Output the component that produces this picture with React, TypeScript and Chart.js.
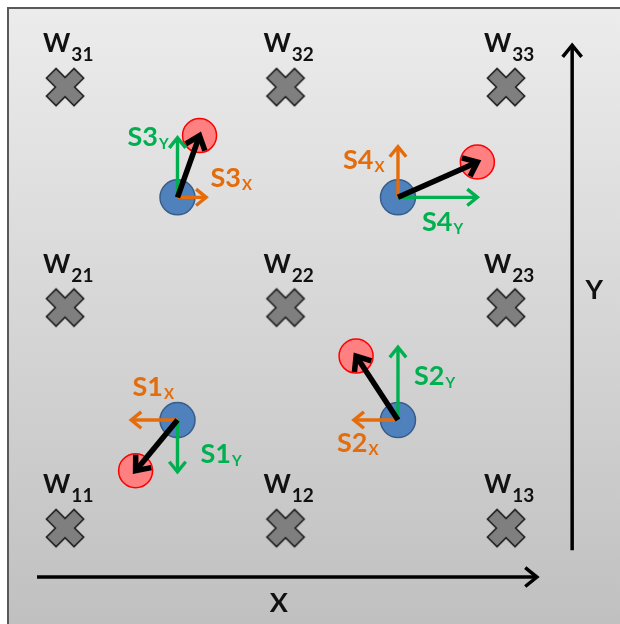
import React, { useEffect, useRef } from "react";
import { Chart, registerables } from "chart.js";

Chart.register(...registerables);

// ---- data (diagram units: weight grid spacing = 1) ----
const weightIds = ["11", "12", "13", "21", "22", "23", "31", "32", "33"];
const weightX = [1, 2, 3, 1, 2, 3, 1, 2, 3];
const weightY = [1, 1, 1, 2, 2, 2, 3, 3, 3];

const sampleIds = ["1", "2", "3", "4"];
const sampleX = [1.51, 2.51, 1.51, 2.51];
const sampleY = [1.49, 1.49, 2.5, 2.5];
const targetX = [1.32, 2.32, 1.61, 2.87];
const targetY = [1.26, 1.78, 2.78, 2.66];

// component arrows as drawn (the "X" component of S4 is drawn vertical)
const compXdx = [-0.21, -0.2, 0.13, 0];
const compXdy = [0, 0, 0, 0.23];
const compYdx = [0, 0, 0, 0.36];
const compYdy = [-0.235, 0.33, 0.27, 0];

const axisXFrom = [0.873, 0.778];
const axisXTo = [3.14, 0.778];
const axisYFrom = [3.3, 0.9];
const axisYTo = [3.3, 3.19];
const axisXLabelPos = [1.97, 0.66];
const axisYLabelPos = [3.4, 2.08];

// ---- styles ----
const FONT = "Lato, 'Open Sans', sans-serif";
const GREEN = "#00b050";
const ORANGE = "#e46c0a";
// label offsets in px relative to the blue circle centre [dx, dy]
const labelXOffset = [[-45, -24], [-61, 32], [33, -10], [-55, -28]];
const labelYOffset = [[23, 43], [16, -35], [-50, -51], [24, 34]];

function makeCross(): HTMLCanvasElement {
  const c = document.createElement("canvas");
  c.width = 46;
  c.height = 46;
  const g = c.getContext("2d")!;
  g.translate(23, 23);
  g.rotate(Math.PI / 4);
  const w = 6.8;
  const L = 19.5;
  g.beginPath();
  g.moveTo(-w, -L);
  g.lineTo(w, -L);
  g.lineTo(w, -w);
  g.lineTo(L, -w);
  g.lineTo(L, w);
  g.lineTo(w, w);
  g.lineTo(w, L);
  g.lineTo(-w, L);
  g.lineTo(-w, w);
  g.lineTo(-L, w);
  g.lineTo(-L, -w);
  g.lineTo(-w, -w);
  g.closePath();
  g.fillStyle = "#7f7f7f";
  g.fill();
  g.lineWidth = 1.6;
  g.lineJoin = "miter";
  g.strokeStyle = "#1e1e1e";
  g.stroke();
  return c;
}

function drawArrow(
  ctx: CanvasRenderingContext2D,
  x1: number,
  y1: number,
  x2: number,
  y2: number,
  color: string,
  width: number,
  head: number
) {
  const ang = Math.atan2(y2 - y1, x2 - x1);
  ctx.save();
  ctx.strokeStyle = color;
  ctx.lineWidth = width;
  ctx.lineCap = "butt";
  ctx.lineJoin = "miter";
  ctx.beginPath();
  ctx.moveTo(x1, y1);
  ctx.lineTo(x2 - Math.cos(ang) * width * 0.6, y2 - Math.sin(ang) * width * 0.6);
  ctx.stroke();
  const a = Math.PI / 4.6;
  ctx.beginPath();
  ctx.moveTo(x2 - head * Math.cos(ang - a), y2 - head * Math.sin(ang - a));
  ctx.lineTo(x2, y2);
  ctx.lineTo(x2 - head * Math.cos(ang + a), y2 - head * Math.sin(ang + a));
  ctx.stroke();
  ctx.restore();
}

function drawSub(
  ctx: CanvasRenderingContext2D,
  x: number,
  y: number,
  main: string,
  sub: string,
  color: string,
  mainSize: number,
  subSize: number,
  subDy: number
) {
  ctx.save();
  ctx.fillStyle = color;
  ctx.textAlign = "left";
  ctx.textBaseline = "alphabetic";
  ctx.font = `bold ${mainSize}px ${FONT}`;
  ctx.fillText(main, x, y);
  const w = ctx.measureText(main).width;
  ctx.font = `bold ${subSize}px ${FONT}`;
  ctx.fillText(sub, x + w + 1, y + subDy);
  ctx.restore();
}

const diagramPlugin = {
  id: "diagram",
  beforeDraw(chart: any) {
    const ctx: CanvasRenderingContext2D = chart.ctx;
    const W = chart.width;
    const H = chart.height;
    ctx.save();
    ctx.fillStyle = "#ffffff";
    ctx.fillRect(0, 0, W, H);
    const grad = ctx.createLinearGradient(0, 8, 0, H);
    grad.addColorStop(0, "#ececec");
    grad.addColorStop(1, "#c0c0c0");
    ctx.fillStyle = grad;
    ctx.fillRect(8, 8, W - 8, H - 8);
    ctx.strokeStyle = "#595959";
    ctx.lineWidth = 2;
    ctx.beginPath();
    ctx.moveTo(8, H + 2);
    ctx.lineTo(8, 8);
    ctx.lineTo(W + 2, 8);
    ctx.stroke();
    ctx.restore();
  },
  afterDatasetsDraw(chart: any) {
    const ctx: CanvasRenderingContext2D = chart.ctx;
    const xs = chart.scales.x;
    const ys = chart.scales.y;
    const px = (v: number) => xs.getPixelForValue(v);
    const py = (v: number) => ys.getPixelForValue(v);

    // weight labels
    for (let i = 0; i < weightIds.length; i++) {
      const cx = px(weightX[i]);
      const cy = py(weightY[i]);
      drawSub(ctx, cx - 22, cy - 35, "W", weightIds[i], "#111111", 26, 19, 9);
    }

    // component arrows
    for (let i = 0; i < sampleIds.length; i++) {
      const bx = px(sampleX[i]);
      const by = py(sampleY[i]);
      drawArrow(ctx, bx, by, px(sampleX[i] + compXdx[i]), py(sampleY[i] + compXdy[i]), ORANGE, 3.4, 13);
      drawArrow(ctx, bx, by, px(sampleX[i] + compYdx[i]), py(sampleY[i] + compYdy[i]), GREEN, 3.4, 13);
    }
    // resultant arrows
    for (let i = 0; i < sampleIds.length; i++) {
      const bx = px(sampleX[i]);
      const by = py(sampleY[i]);
      const tx = px(targetX[i]);
      const ty = py(targetY[i]);
      drawArrow(ctx, bx, by, tx, ty, "#000000", 5.5, 16);
    }
    // component labels
    for (let i = 0; i < sampleIds.length; i++) {
      const bx = px(sampleX[i]);
      const by = py(sampleY[i]);
      const ox = labelXOffset[i];
      const oy = labelYOffset[i];
      drawSub(ctx, bx + ox[0], by + ox[1], "S" + sampleIds[i], "X", ORANGE, 27, 15, 3);
      drawSub(ctx, bx + oy[0], by + oy[1], "S" + sampleIds[i], "Y", GREEN, 27, 15, 3);
    }

    // axes arrows
    drawArrow(ctx, px(axisXFrom[0]), py(axisXFrom[1]), px(axisXTo[0]), py(axisXTo[1]), "#000000", 3.5, 15);
    drawArrow(ctx, px(axisYFrom[0]), py(axisYFrom[1]), px(axisYTo[0]), py(axisYTo[1]), "#000000", 3.5, 15);
    ctx.save();
    ctx.fillStyle = "#111111";
    ctx.font = `bold 27px ${FONT}`;
    ctx.textAlign = "center";
    ctx.textBaseline = "middle";
    ctx.fillText("X", px(axisXLabelPos[0]), py(axisXLabelPos[1]));
    ctx.fillText("Y", px(axisYLabelPos[0]), py(axisYLabelPos[1]));
    ctx.restore();
  },
};

export default function App() {
  const ref = useRef<HTMLCanvasElement>(null);
  useEffect(() => {
    const canvas = ref.current!;
    const cross = makeCross();
    const chart = new Chart(canvas, {
      type: "scatter",
      data: {
        datasets: [
          {
            label: "weights",
            data: weightX.map((x, i) => ({ x, y: weightY[i] })),
            pointStyle: cross as any,
            pointRadius: 20,
          },
          {
            label: "targets",
            data: targetX.map((x, i) => ({ x, y: targetY[i] })),
            pointRadius: 17,
            pointBackgroundColor: "#ff8080",
            pointBorderColor: "#ff0000",
            pointBorderWidth: 1.5,
          },
          {
            label: "samples",
            data: sampleX.map((x, i) => ({ x, y: sampleY[i] })),
            pointRadius: 17.5,
            pointBackgroundColor: "#4f81bd",
            pointBorderColor: "#385d8a",
            pointBorderWidth: 1.5,
          },
        ],
      },
      options: {
        animation: false,
        responsive: false,
        events: [],
        layout: { padding: 0, autoPadding: false },
        plugins: { legend: { display: false }, tooltip: { enabled: false } },
        scales: {
          x: { type: "linear", min: 0.705, max: 3.517, display: false },
          y: { type: "linear", min: 0.565, max: 3.395, display: false },
        },
      },
      plugins: [diagramPlugin],
    });
    return () => chart.destroy();
  }, []);
  return (
    <div style={{ position: "fixed", left: 0, top: 0, width: 620, height: 624 }}>
      <canvas ref={ref} width={620} height={624} style={{ display: "block" }} />
    </div>
  );
}
